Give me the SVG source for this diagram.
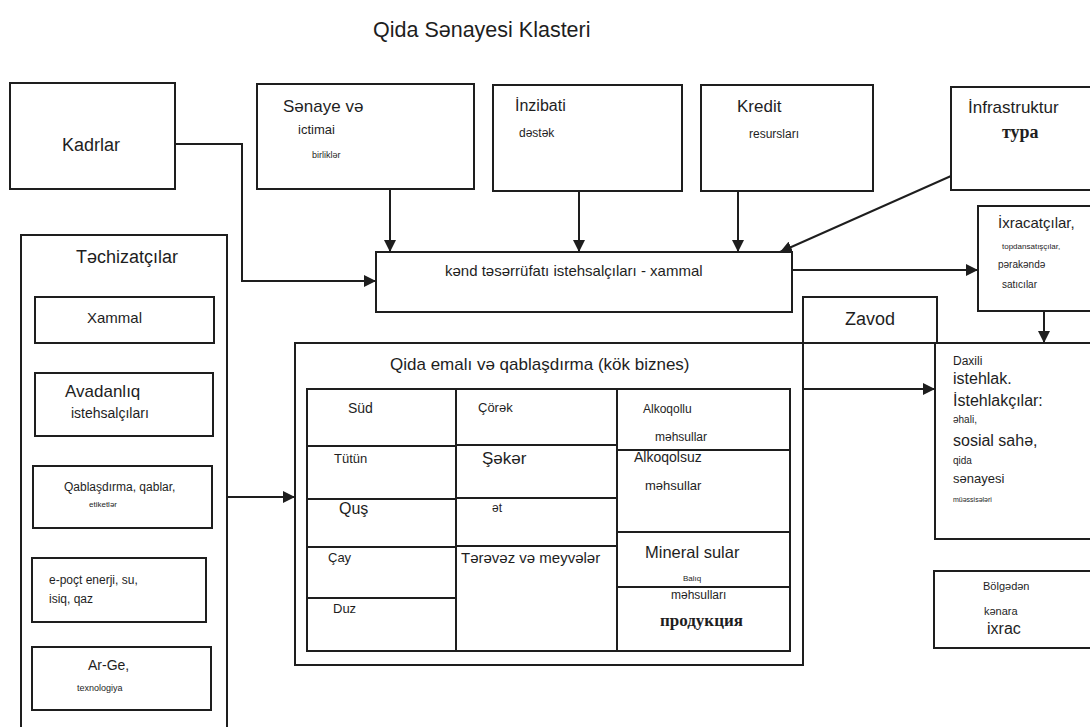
<svg xmlns="http://www.w3.org/2000/svg" width="1090" height="727" viewBox="0 0 1090 727">
<style>
.b{fill:#fff;stroke:#1e1e1e;stroke-width:2}
.l{fill:none;stroke:#1e1e1e;stroke-width:2}
text{font-family:"Liberation Sans",Arial,sans-serif;fill:#1e1e1e}
.s{font-family:"Liberation Serif","Times New Roman",serif;font-weight:bold}
</style>
<defs>
<marker id="ar" viewBox="0 0 10 10" refX="10" refY="5" markerWidth="6" markerHeight="6" markerUnits="strokeWidth" orient="auto">
<path d="M0,0 L10,5 L0,10 z" fill="#1e1e1e"/>
</marker>
</defs>
<rect width="1090" height="727" fill="#fff"/>
<text x="373" y="37" font-size="21.5">Qida Sənayesi Klasteri</text>

<g id="kadrlar"><rect class="b" x="10" y="83" width="165" height="106"/><text x="62" y="151" font-size="18">Kadrlar</text></g>
<g id="senaye"><rect class="b" x="257" y="84" width="217" height="105"/><text x="283" y="112" font-size="17">Sənaye və</text><text x="298" y="134" font-size="13">ictimai</text><text x="312" y="158" font-size="9">birliklər</text></g>
<g id="inzibati"><rect class="b" x="493" y="85" width="189" height="106"/><text x="515" y="111" font-size="16">İnzibati</text><text x="519" y="137" font-size="12">dəstək</text></g>
<g id="kredit"><rect class="b" x="701" y="85" width="172" height="106"/><text x="737" y="112" font-size="17">Kredit</text><text x="749" y="138" font-size="12">resursları</text></g>
<g id="infra"><rect class="b" x="951" y="87" width="145" height="103"/><text x="968" y="113" font-size="17">İnfrastruktur</text><text class="s" x="1002" y="138" font-size="18">туpa</text></g>
<g id="kend"><rect class="b" x="376" y="252" width="416" height="60"/><text x="445" y="276" font-size="15">kənd təsərrüfatı istehsalçıları - xammal</text></g>
<g id="ixracatcilar"><rect class="b" x="978" y="206" width="118" height="105"/><text x="998" y="228" font-size="15">İxracatçılar,</text><text x="1002" y="249" font-size="8">topdansatışçılar,</text><text x="998" y="268" font-size="10">pərakəndə</text><text x="1002" y="288" font-size="10">satıcılar</text></g>

<g id="techizatcilar"><rect class="b" x="21" y="235" width="206" height="500"/><text x="76" y="263" font-size="18">Təchizatçılar</text>
<rect class="b" x="35" y="297" width="179" height="46"/><text x="87" y="323" font-size="15">Xammal</text>
<rect class="b" x="35" y="373" width="178" height="63"/><text x="65" y="397" font-size="17">Avadanlıq</text><text x="71" y="418" font-size="14">istehsalçıları</text>
<rect class="b" x="33" y="466" width="179" height="62"/><text x="64" y="491" font-size="12">Qablaşdırma, qablar,</text><text x="89" y="507" font-size="8">etiketlər</text>
<rect class="b" x="32" y="558" width="174" height="64"/><text x="49" y="584" font-size="12">e-poçt enerji, su,</text><text x="49" y="603" font-size="12">isiq, qaz</text>
<rect class="b" x="32" y="647" width="179" height="63"/><text x="88" y="670" font-size="14">Ar-Ge,</text><text x="77" y="691" font-size="9">texnologiya</text>
</g>

<g id="zavod"><rect class="b" x="803" y="297" width="134" height="46"/><text x="845" y="325" font-size="18">Zavod</text></g>
<g id="emal"><rect class="b" x="295" y="343" width="508" height="322"/><text x="390" y="370" font-size="17">Qida emalı və qablaşdırma (kök biznes)</text>
<rect class="b" x="307" y="389" width="483" height="262"/>
<path class="l" d="M456,389V651M617,389V651M307,446H456M307,499H456M307,547H456M307,598H456M456,445H617M456,498H617M456,546H617M617,450H790M617,532H790M617,587H790"/>
<text x="348" y="413" font-size="14">Süd</text>
<text x="478" y="412" font-size="13">Çörək</text>
<text x="643" y="413" font-size="12">Alkoqollu</text>
<text x="655" y="441" font-size="12">məhsullar</text>
<text x="334" y="463" font-size="13">Tütün</text>
<text x="482" y="464" font-size="17">Şəkər</text>
<text x="634" y="462" font-size="14">Alkoqolsuz</text>
<text x="645" y="490" font-size="13">məhsullar</text>
<text x="339" y="514" font-size="16">Quş</text>
<text x="492" y="512" font-size="12">ət</text>
<text x="328" y="562" font-size="13">Çay</text>
<text x="461" y="563" font-size="15">Tərəvəz və meyvələr</text>
<text x="645" y="558" font-size="16.5">Mineral sular</text>
<text x="683" y="581" font-size="8">Balıq</text>
<text x="671" y="599" font-size="12">məhsulları</text>
<text class="s" x="660" y="626" font-size="17">продукция</text>
<text x="333" y="613" font-size="13">Duz</text>
</g>

<g id="daxili"><rect class="b" x="935" y="343" width="161" height="196"/>
<text x="953" y="365" font-size="12">Daxili</text>
<text x="953" y="384" font-size="16">istehlak.</text>
<text x="953" y="406" font-size="16">İstehlakçılar:</text>
<text x="953" y="423" font-size="10">əhali,</text>
<text x="953" y="446" font-size="16">sosial sahə,</text>
<text x="953" y="464" font-size="10">qida</text>
<text x="953" y="483" font-size="13">sənayesi</text>
<text x="953" y="502" font-size="7">müəssisələri</text>
</g>
<g id="bolgeden"><rect class="b" x="934" y="571" width="162" height="77"/><text x="983" y="590" font-size="11">Bölgədən</text><text x="984" y="615" font-size="11">kənara</text><text x="987" y="634" font-size="16">ixrac</text></g>

<g id="connectors">
<path class="l" d="M175,144H242V281H376" marker-end="url(#ar)"/>
<path class="l" d="M390,189V252" marker-end="url(#ar)"/>
<path class="l" d="M579,191V252" marker-end="url(#ar)"/>
<path class="l" d="M738,191V252" marker-end="url(#ar)"/>
<path class="l" d="M951,176L780,252" marker-end="url(#ar)"/>
<path class="l" d="M792,270H978" marker-end="url(#ar)"/>
<path class="l" d="M1044,311V343" marker-end="url(#ar)"/>
<path class="l" d="M227,497H295" marker-end="url(#ar)"/>
<path class="l" d="M803,389H935" marker-end="url(#ar)"/>
<path class="l" d="M803,343H1090"/>
</g>
</svg>
